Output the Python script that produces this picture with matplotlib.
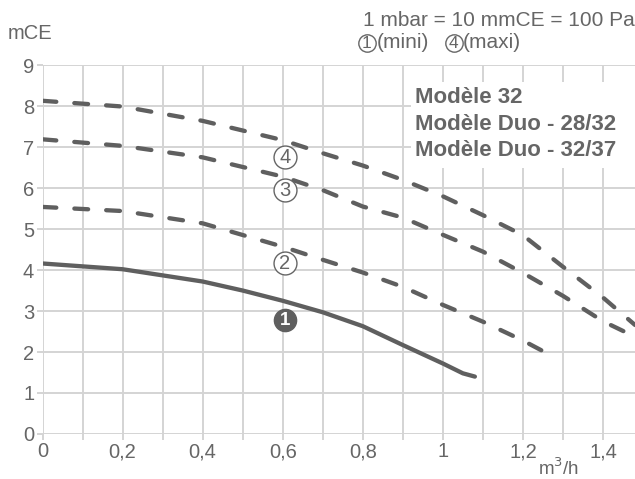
import numpy as np
import matplotlib.pyplot as plt
from matplotlib.ticker import MultipleLocator, FuncFormatter

# Curves (flow in m3/h, head in mCE)
x1 = [0, 0.2, 0.4, 0.5, 0.6, 0.7, 0.8, 0.9, 1.0, 1.05, 1.08]
y1 = [4.16, 4.02, 3.72, 3.50, 3.25, 2.97, 2.63, 2.17, 1.72, 1.48, 1.40]

x2 = [0, 0.2, 0.4, 0.6, 0.7, 0.8, 0.9, 1.0, 1.1, 1.2, 1.26]
y2 = [5.54, 5.44, 5.14, 4.57, 4.25, 3.94, 3.59, 3.15, 2.74, 2.28, 1.97]

x3 = [0, 0.2, 0.4, 0.6, 0.7, 0.8, 0.9, 1.0, 1.1, 1.2, 1.3, 1.4, 1.47]
y3 = [7.19, 7.03, 6.75, 6.28, 5.95, 5.55, 5.28, 4.86, 4.45, 3.93, 3.37, 2.75, 2.42]

x4 = [0, 0.2, 0.4, 0.6, 0.7, 0.8, 0.9, 1.0, 1.1, 1.2, 1.3, 1.4, 1.48]
y4 = [8.13, 7.99, 7.64, 7.17, 6.85, 6.55, 6.20, 5.80, 5.34, 4.85, 4.08, 3.33, 2.66]

# speed labels (circled numbers)
lab_x = [0.605, 0.605, 0.605, 0.605]
lab_y = [2.78, 4.18, 5.95, 6.76]
lab_txt = ['1', '2', '3', '4']

models = ['Modèle 32', 'Modèle Duo - 28/32', 'Modèle Duo - 32/37']

grey = '#5f5f5f'
txt = '#666666'
grid = '#d4d4d4'

plt.rcParams['font.family'] = ['Liberation Sans', 'DejaVu Sans']

fig = plt.figure(figsize=(6.35, 4.79), dpi=100)
ax = fig.add_axes([0.067, 0.094, 0.933, 0.770])

ax.set_xlim(0, 1.48)
ax.set_ylim(0, 9)
ax.xaxis.set_major_locator(MultipleLocator(0.2))
ax.xaxis.set_minor_locator(MultipleLocator(0.1))
ax.yaxis.set_major_locator(MultipleLocator(1))
ax.xaxis.set_major_formatter(FuncFormatter(lambda v, p: ('%g' % round(v, 1)).replace('.', ',')))
ax.grid(True, which='both', color=grid, lw=1.4)
ax.set_axisbelow(True)
for s in ax.spines.values():
    s.set_visible(False)
ax.tick_params(which='both', length=4, color=grid, width=1.4, labelsize=14.5, labelcolor=txt, pad=2)

lw = 3.1
ax.plot(x1, y1, color=grey, lw=lw, solid_capstyle='round', solid_joinstyle='round', zorder=3)
for xs, ys in [(x2, y2), (x3, y3), (x4, y4)]:
    ax.plot(xs, ys, color=grey, lw=lw, dashes=(3.2, 4.2), dash_capstyle='round', zorder=3)

# circled labels
for i, (lx, ly, t) in enumerate(zip(lab_x, lab_y, lab_txt)):
    if i == 0:
        ax.plot(lx, ly, 'o', ms=16, mfc=grey, mec=grey, zorder=4)
        ax.text(lx, ly, t, color='white', fontsize=13.5, fontweight='bold', ha='center', va='center', zorder=5)
    else:
        ax.plot(lx, ly, 'o', ms=16.5, mfc='white', mec=txt, mew=1.0, zorder=4)
        ax.text(lx, ly - 0.02, t, color=txt, fontsize=14.5, ha='center', va='center', zorder=5)

# model box
ax.add_patch(plt.Rectangle((0.92, 6.5), 0.6, 2.1, facecolor='white', edgecolor='none', zorder=2))
for k, m in enumerate(models):
    ax.text(0.93, 8.2 - k * 0.645, m, color=txt, fontsize=16, fontweight='bold',
            ha='left', va='center', zorder=5)

fig.text(0.012, 0.931, 'mCE', color=txt, fontsize=14.5, va='center', ha='left')
fig.text(0.999, 0.958, '1 mbar = 10 mmCE = 100 Pa', color=txt, fontsize=15, va='center', ha='right')

# header: circled 1 (mini), circled 4 (maxi)
for cx, d, word in [(367, '1', '(mini)'), (453.5, '4', '(maxi)')]:
    fx, fy = cx / 635, 1 - 43 / 479
    ax.plot(fx, fy, 'o', ms=12.5, mfc='white', mec=txt, mew=1.0, transform=fig.transFigure, clip_on=False)
    fig.text(fx, fy - 0.002, d, color=txt, fontsize=12.5, ha='center', va='center')
    fig.text(fx + 9.5 / 635, fy, word, color=txt, fontsize=15, ha='left', va='center')

fig.text(0.879, 0.022, 'm$^3$/h', color=txt, fontsize=13.5, va='center', ha='center')

fig.savefig('out.png', dpi=100)
